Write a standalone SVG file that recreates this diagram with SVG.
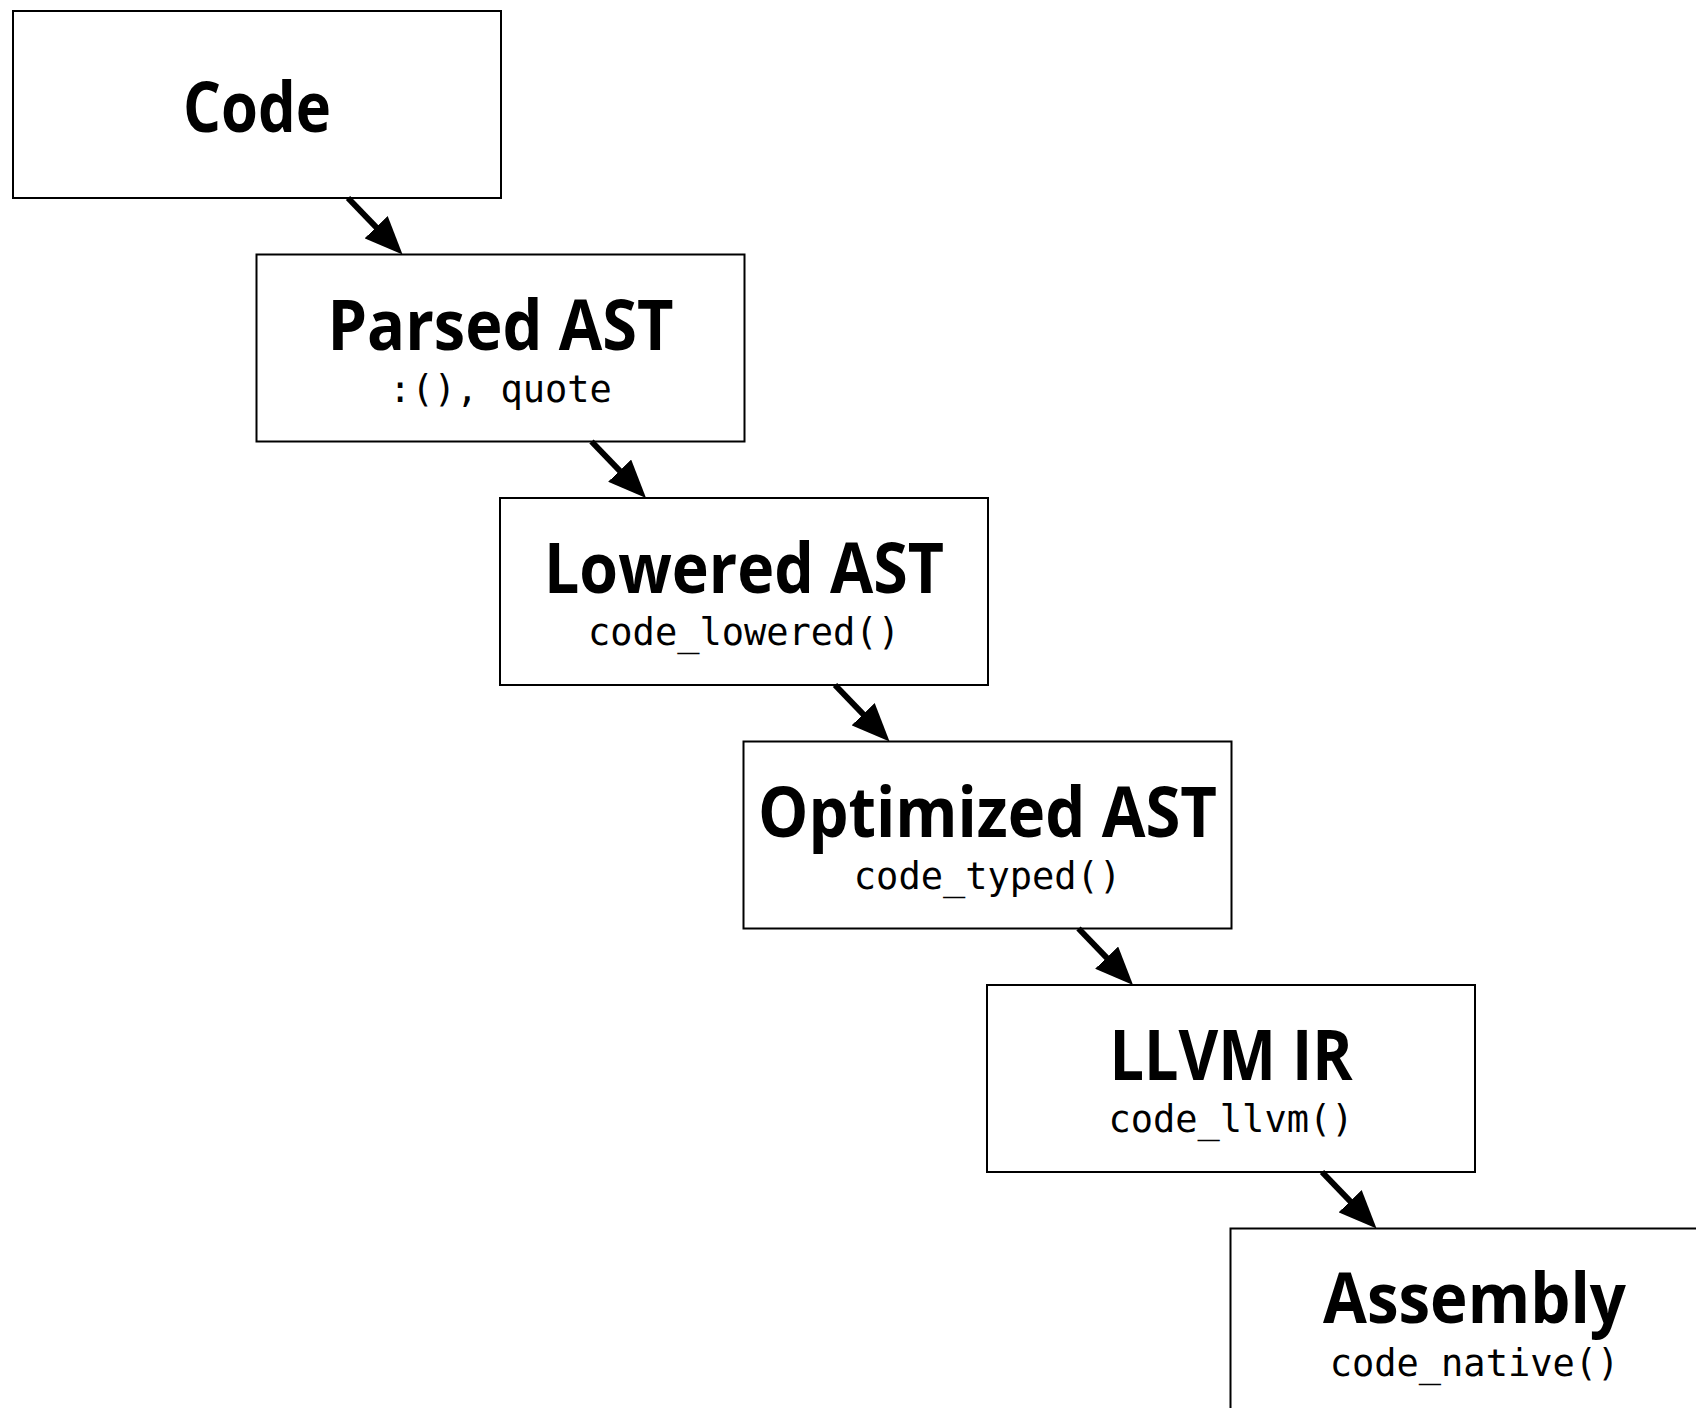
<svg xmlns="http://www.w3.org/2000/svg" width="1696" height="1408" viewBox="0 0 1696 1408">
<style>
.box{fill:#fff;stroke:#000;stroke-width:2}
.t{font-family:"Open Sans","Noto Sans",sans-serif;font-weight:700;font-size:70px;text-anchor:middle;fill:#000}
.m{font-family:"DejaVu Sans Mono","Liberation Mono",monospace;font-size:37px;text-anchor:middle;fill:#000}
.c{stroke:#000;stroke-width:6;fill:none}
</style>
<defs>
<marker id="ah" viewBox="0 0 38 32" refX="28" refY="16" markerWidth="38" markerHeight="32" markerUnits="userSpaceOnUse" orient="auto">
<path d="M0,0 L38,16 L0,32 z" fill="#000"/>
</marker>
</defs>
<rect width="1696" height="1408" fill="#fff"/>
<g id="code"><rect class="box" x="13" y="11" width="488" height="187"/><text class="t" x="257" y="132" textLength="148" lengthAdjust="spacingAndGlyphs">Code</text></g>
<g id="parsed"><rect class="box" x="256.5" y="254.5" width="488" height="187"/><text class="t" x="500.5" y="349.5" textLength="346" lengthAdjust="spacingAndGlyphs">Parsed AST</text><text class="m" x="500.5" y="401.5">:(), quote</text></g>
<g id="lowered"><rect class="box" x="500" y="498" width="488" height="187"/><text class="t" x="744" y="593" textLength="400" lengthAdjust="spacingAndGlyphs">Lowered AST</text><text class="m" x="744" y="645">code_lowered()</text></g>
<g id="optimized"><rect class="box" x="743.5" y="741.5" width="488" height="187"/><text class="t" x="987.5" y="836.5" textLength="459" lengthAdjust="spacingAndGlyphs">Optimized AST</text><text class="m" x="987.5" y="888.5">code_typed()</text></g>
<g id="llvm"><rect class="box" x="987" y="985" width="488" height="187"/><text class="t" x="1231" y="1080" textLength="243" lengthAdjust="spacingAndGlyphs">LLVM IR</text><text class="m" x="1231" y="1132">code_llvm()</text></g>
<g id="assembly"><rect class="box" x="1230.5" y="1228.5" width="488" height="187"/><text class="t" x="1474.5" y="1323" textLength="303" lengthAdjust="spacingAndGlyphs">Assembly</text><text class="m" x="1474.5" y="1375.5">code_native()</text></g>
<g id="connectors">
<line class="c" x1="348" y1="198" x2="395.6" y2="247.3" marker-end="url(#ah)"/>
<line class="c" x1="591.5" y1="441.5" x2="639.1" y2="490.8" marker-end="url(#ah)"/>
<line class="c" x1="835" y1="685" x2="882.6" y2="734.3" marker-end="url(#ah)"/>
<line class="c" x1="1078.5" y1="928.5" x2="1126.1" y2="977.8" marker-end="url(#ah)"/>
<line class="c" x1="1322" y1="1172" x2="1369.6" y2="1221.3" marker-end="url(#ah)"/>
</g>
</svg>
